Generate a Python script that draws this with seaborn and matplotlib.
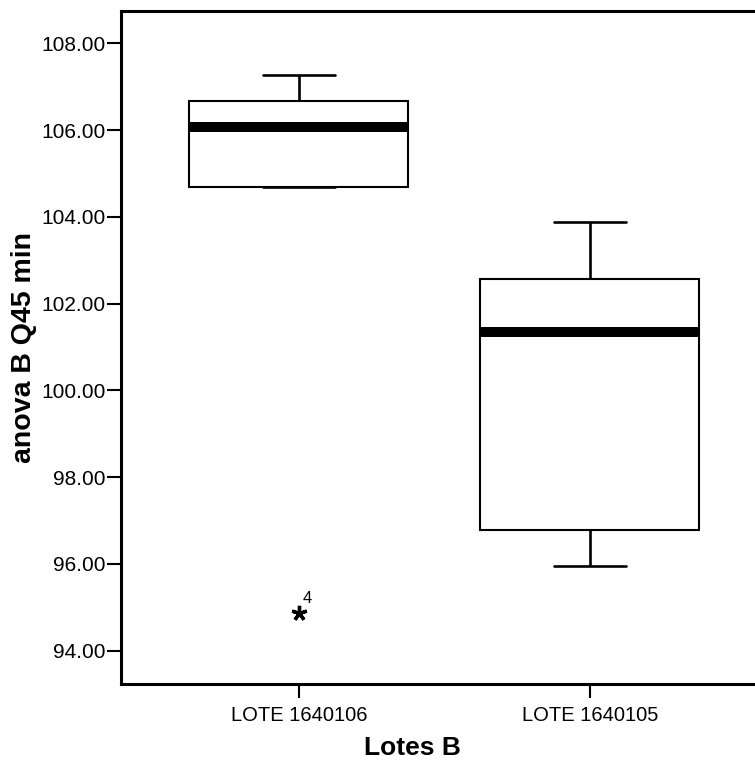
import numpy as np
import pandas as pd
import matplotlib
matplotlib.use("Agg")
import matplotlib.pyplot as plt
import seaborn as sns

# Batch labels (x categories) and the measured values per case, in case order
lotes = ["LOTE 1640106", "LOTE 1640105"]
lote_1640106 = [106.06, 104.68, 106.50, 94.86, 107.27, 104.68, 106.84]
lote_1640105 = [101.35, 96.50, 103.88, 102.20, 95.96, 97.06, 102.95]
y_ticks = [94.0, 96.0, 98.0, 100.0, 102.0, 104.0, 106.0, 108.0]

df = pd.DataFrame({
    "caso": np.arange(1, len(lote_1640106) + len(lote_1640105) + 1),
    "lote": [lotes[0]] * len(lote_1640106) + [lotes[1]] * len(lote_1640105),
    "valor": lote_1640106 + lote_1640105,
})

sns.set_theme(style="white")
plt.rcParams["font.family"] = ["Liberation Sans", "DejaVu Sans"]

fig = plt.figure(figsize=(7.55, 7.62), dpi=100)
ax = fig.add_axes([0.1609, 0.1030, 1.0 - 0.1609, 0.9862 - 0.1030])

sns.boxplot(
    data=df, x="lote", y="valor", order=lotes, ax=ax,
    color="white", linecolor="black", linewidth=1.5, width=0.753,
    whis=1.5, capwidths=0.249,
    medianprops=dict(color="black", linewidth=7.2, solid_capstyle="butt"),
    whiskerprops=dict(color="black", linewidth=1.9),
    capprops=dict(color="black", linewidth=1.9),
    flierprops=dict(marker=(5, 2, 0), markersize=11, markeredgewidth=2.4,
                    markeredgecolor="black", markerfacecolor="black"),
)

# Label extreme cases with their case number
for i, lote in enumerate(lotes):
    sub = df[df["lote"] == lote]
    q1, q3 = np.percentile(sub["valor"], [25, 75])
    iqr = q3 - q1
    ext = sub[(sub["valor"] < q1 - 1.5 * iqr) | (sub["valor"] > q3 + 1.5 * iqr)]
    for _, row in ext.iterrows():
        ax.annotate(str(row["caso"]), xy=(i, row["valor"]), xytext=(6, 10.5),
                    textcoords="offset points", ha="center", va="center",
                    fontsize=12, color="black")

ax.set_xlim(-0.6095, 1.568)
ax.set_ylim(93.244, 108.756)
ax.set_yticks(y_ticks)
ax.set_yticklabels([f"{v:.2f}" for v in y_ticks])

for side in ["left", "bottom", "top"]:
    ax.spines[side].set_visible(True)
    ax.spines[side].set_linewidth(2.2)
    ax.spines[side].set_color("black")
ax.spines["right"].set_visible(False)

ax.tick_params(axis="both", which="major", direction="out", length=10,
               width=1.5, color="black", labelcolor="black", bottom=True, left=True)
ax.tick_params(axis="y", labelsize=15, pad=1.5)
ax.tick_params(axis="x", labelsize=14.5, pad=6)

ax.set_xlabel("Lotes B", fontsize=19, fontweight="bold", color="black")
ax.set_ylabel("anova B Q45 min", fontsize=20.5, fontweight="bold", color="black")
ax.xaxis.label.set_va("center")
ax.yaxis.label.set_va("center")
ax.xaxis.set_label_coords(0.46, -0.0958)
ax.yaxis.set_label_coords(-0.154, 0.5)
ax.grid(False)

fig.savefig("out.png", dpi=100, facecolor="white")
